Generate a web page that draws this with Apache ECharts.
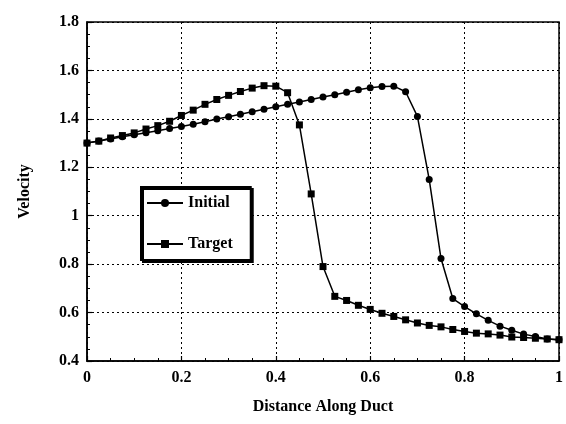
<!DOCTYPE html>
<html>
<head>
<meta charset="utf-8">
<script src="https://cdn.jsdelivr.net/npm/echarts@6/dist/echarts.min.js"></script>
<style>html,body{margin:0;padding:0;background:#fff;}#c{width:566px;height:424px;}</style>
</head>
<body>
<div id="c"></div>
<script>
var distance = [0, 0.025, 0.05, 0.075, 0.1, 0.125, 0.15, 0.175, 0.2, 0.225, 0.25, 0.275, 0.3, 0.325, 0.35, 0.375, 0.4, 0.425, 0.45, 0.475, 0.5, 0.525, 0.55, 0.575, 0.6, 0.625, 0.65, 0.675, 0.7, 0.725, 0.75, 0.775, 0.8, 0.825, 0.85, 0.875, 0.9, 0.925, 0.95, 0.975, 1.0];
var initialVel = [1.300, 1.309, 1.317, 1.326, 1.334, 1.343, 1.351, 1.360, 1.368, 1.378, 1.388, 1.399, 1.409, 1.419, 1.429, 1.440, 1.450, 1.460, 1.470, 1.480, 1.490, 1.500, 1.510, 1.520, 1.528, 1.534, 1.535, 1.512, 1.410, 1.150, 0.823, 0.658, 0.625, 0.595, 0.568, 0.544, 0.527, 0.511, 0.501, 0.491, 0.488];
var targetVel = [1.300, 1.308, 1.321, 1.331, 1.342, 1.358, 1.372, 1.390, 1.414, 1.436, 1.460, 1.480, 1.497, 1.513, 1.527, 1.537, 1.535, 1.508, 1.375, 1.090, 0.790, 0.667, 0.650, 0.630, 0.613, 0.597, 0.584, 0.570, 0.557, 0.547, 0.541, 0.530, 0.522, 0.515, 0.512, 0.507, 0.499, 0.497, 0.494, 0.491, 0.488];
var seriesNames = ['Initial', 'Target'];
var xTitle = 'Distance Along Duct';
var yTitle = 'Velocity';

function pairs(ys) { return distance.map(function (d, i) { return [d, ys[i]]; }); }

var font = '"Liberation Serif", "DejaVu Serif", serif';
var chart = echarts.init(document.getElementById('c'), null, {renderer: 'canvas'});
var axisCommon = {
  axisLine: {show: true, lineStyle: {color: '#000', width: 1.5}},
  axisTick: {show: true, inside: true, length: 5, lineStyle: {color: '#000', width: 1.2}},
  minorTick: {show: true, splitNumber: 4, length: 3, lineStyle: {color: '#000', width: 1}},
  splitLine: {show: true, lineStyle: {color: '#000', width: 1, type: [2, 3]}},
  axisLabel: {color: '#000', fontFamily: font, fontSize: 16, fontWeight: 'bold'},
  nameTextStyle: {color: '#000', fontFamily: font, fontSize: 16, fontWeight: 'bold'}
};
chart.setOption({
  animation: false,
  backgroundColor: '#fff',
  grid: {left: 87, right: 5, top: 22, bottom: 63, show: true, borderColor: '#000', borderWidth: 1.5, backgroundColor: 'transparent'},
  xAxis: Object.assign({}, axisCommon, {
    type: 'value', min: 0, max: 1, interval: 0.2,
    name: xTitle, nameLocation: 'middle', nameGap: 38,
    axisLabel: Object.assign({}, axisCommon.axisLabel, {margin: 9})
  }),
  yAxis: Object.assign({}, axisCommon, {
    type: 'value', min: 0.4, max: 1.8, interval: 0.2,
    name: yTitle, nameLocation: 'middle', nameGap: 54,
    axisLabel: Object.assign({}, axisCommon.axisLabel, {margin: 8, formatter: function (v) { return String(Math.round(v * 10) / 10); }})
  }),
  legend: {
    orient: 'vertical', left: 141, top: 187,
    backgroundColor: '#fff', borderColor: '#000', borderWidth: 2,
    shadowColor: '#000', shadowBlur: 0, shadowOffsetX: 2, shadowOffsetY: 2,
    padding: [8, 18, 8, 5], itemGap: 25, itemWidth: 36, itemHeight: 10,
    textStyle: {color: '#000', fontFamily: font, fontSize: 16, fontWeight: 'bold'},
    data: seriesNames
  },
  series: [
    {name: seriesNames[0], type: 'line', data: pairs(initialVel), symbol: 'circle', symbolSize: 7,
     lineStyle: {color: '#000', width: 1.5}, itemStyle: {color: '#000'}, z: 3},
    {name: seriesNames[1], type: 'line', data: pairs(targetVel), symbol: 'rect', symbolSize: 7,
     lineStyle: {color: '#000', width: 1.5}, itemStyle: {color: '#000'}, z: 3}
  ]
});
</script>
</body>
</html>
